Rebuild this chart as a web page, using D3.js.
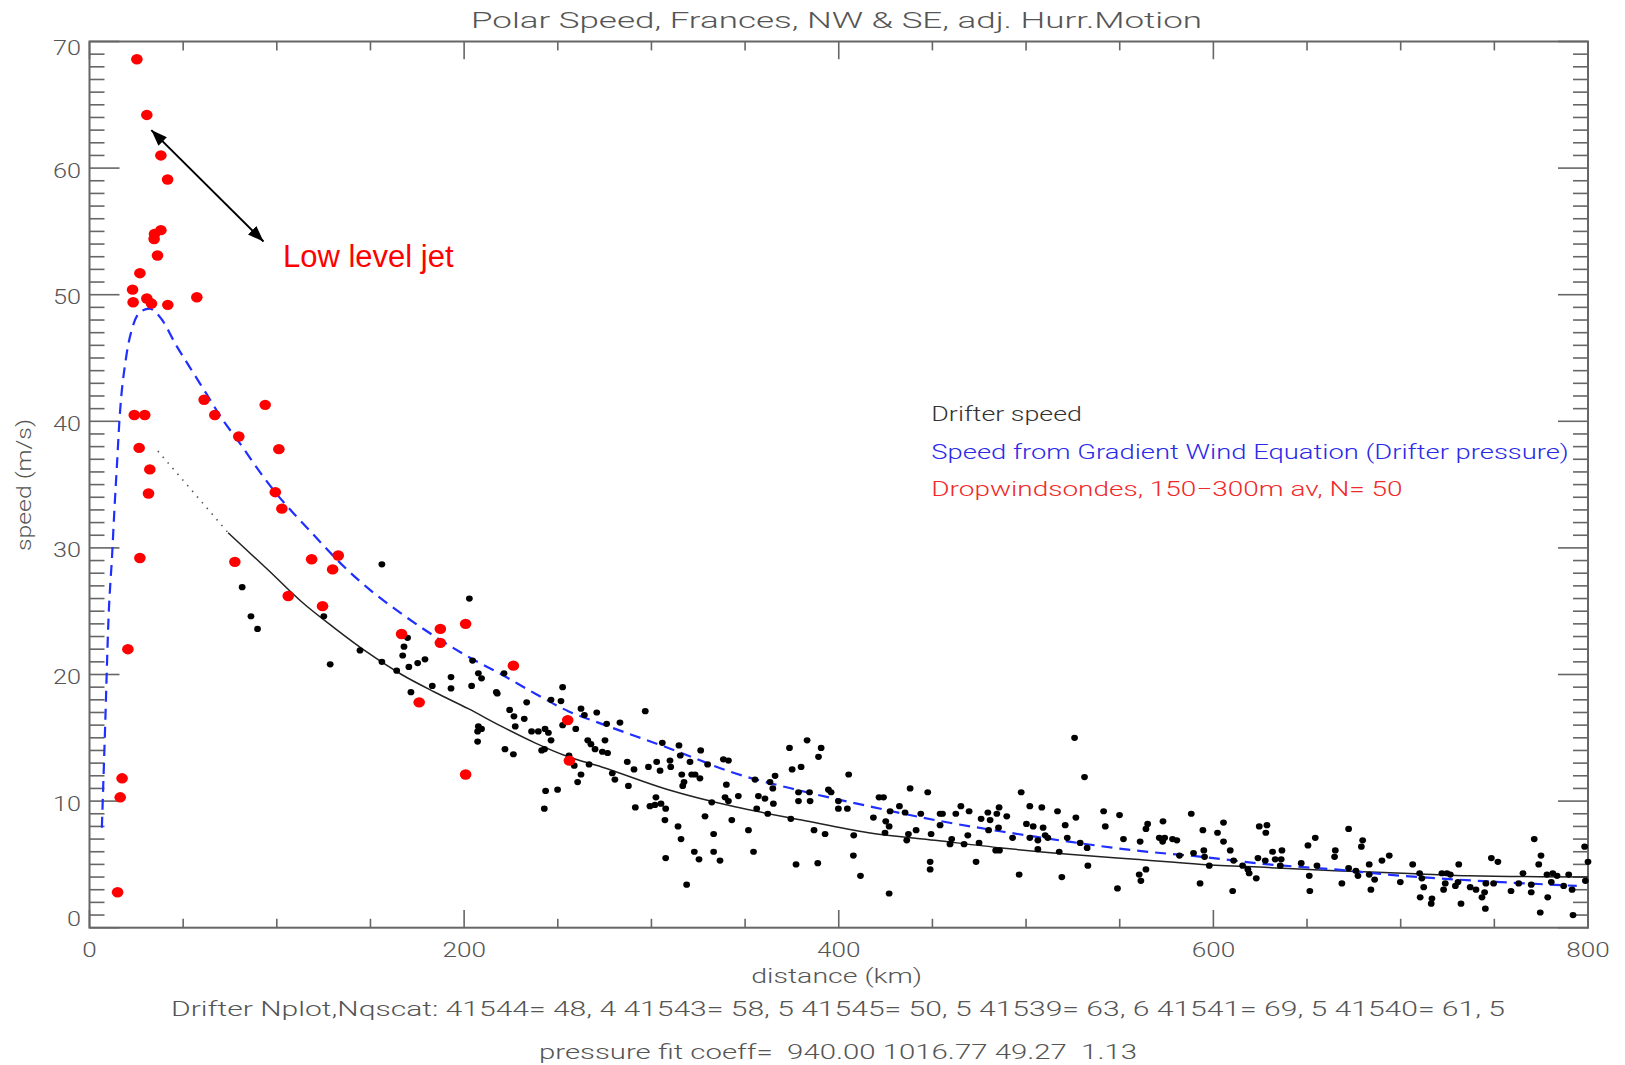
<!DOCTYPE html>
<html><head><meta charset="utf-8">
<script src="https://cdn.jsdelivr.net/npm/d3@7"></script>
<style>body{margin:0;background:#fff} text{white-space:pre}</style>
</head><body>
<svg id="chart" width="1625" height="1065"></svg>
<script>
// ---------- tick labels ----------
const xTickLabels = [0, 200, 400, 600, 800];
const yTickLabels = [0, 10, 20, 30, 40, 50, 60, 70];

// ---------- Dropwindsondes (red) ----------
const redD = [25.3,30.6,38.1,41.7,38.1,34.7,34.5,36.3,26.9,23.0,23.3,30.6,33.1,41.8,57.3,61.2,93.8,23.9,29.5,66.9,79.7,26.5,101.1,32.2,31.5,99.2,102.7,26.9,77.6,20.5,17.4,16.4,15.0,118.6,132.8,129.8,106.1,124.4,166.6,187.3,187.3,200.8,226.3,176.0,200.8,255.3,256.2];
const redV = [68.6,64.2,61.0,59.1,55.1,54.8,54.4,53.1,51.7,50.4,49.4,49.7,49.3,49.2,49.8,41.7,41.3,40.5,40.5,40.5,38.8,37.9,37.8,36.2,34.3,34.4,33.1,29.2,28.9,22.0,11.8,10.3,2.8,29.1,29.4,28.3,26.2,25.4,23.2,23.6,22.5,24.0,20.7,17.8,12.1,16.4,13.2];

// ---------- Drifter speed (black) ----------
const blackD = [
81.5,86.2,89.7,125.1,128.5,144.4,156.1,156.1,164.0,169.8,167.9,167.2,170.5,175.2,179.1,171.6,183.0,193.0,193.0,202.8,204.5,207.6,209.3,204.0,217.2,217.7,221.3,207.6,209.3,207.2,207.2,224.3,226.6,232.1,233.4,227.3,221.8,226.3,236.0,239.6,243.2,245.0,246.4,241.4,242.9,251.7,252.6,246.4,252.6,259.6,262.4,264.2,270.8,276.1,266.0,267.7,269.9,275.2,273.8,276.6,256.0,258.8,266.7,262.4,260.6,243.5,249.9,242.8,279.1,280.5,283.2,
287.1,290.7,287.7,291.4,296.7,298.4,302.8,304.6,305.8,309.9,310.3,302.4,299.2,301.9,305.1,307.6,307.2,307.6,314.2,315.8,318.8,314.7,315.4,316.2,317.4,316.7,320.6,321.5,323.3,325.9,326.3,322.9,325.4,328.6,330.0,332.2,333.2,333.2,336.6,338.4,341.1,340.0,339.3,341.1,342.9,346.4,351.8,354.5,355.3,357.1,356.2,360.6,362.1,363.3,364.8,365.1,366.0,373.7,375.1,379.9,383.1,390.6,389.2,374.4,378.5,378.5,384.4,384.7,377.2,386.8,388.8,392.7,394.5,395.9,399.8,399.8,404.6,405.3,408.0,407.8,411.6,418.5,421.5,423.9,425.1,426.9,424.7,427.4,426.9,432.4,435.4,438.1,437.2,436.3,441.3,443.8,447.5,449.3,448.8,448.8,454.1,455.4,454.1,460.3,459.4,462.5,465.2,469.6,466.9,468.9,473.3,474.9,476.0,479.6,480.8,480.0,484.4,485.6,485.3,483.8,485.8,489.7,492.8,496.3,497.4,
502.0,500.2,503.8,502.0,506.3,506.3,508.4,509.1,510.2,511.6,516.8,517.7,519.1,520.9,522.0,525.9,526.6,528.9,531.2,532.6,533.0,541.4,542.3,548.8,549.9,552.0,560.4,561.3,560.9,564.0,564.9,564.0,571.1,573.1,574.0,572.9,578.2,580.5,581.9,588.2,589.4,592.9,594.4,594.9,595.3,597.8,602.2,605.4,605.4,609.0,610.3,610.8,615.6,618.4,619.1,622.9,624.5,628.6,628.0,623.8,627.7,631.6,633.0,636.6,636.2,635.7,646.9,650.5,654.4,655.3,651.2,651.5,664.7,665.1,668.6,672.2,672.2,676.1,677.2,679.0,679.7,683.2,683.2,686.1,684.1,690.0,693.9,699.8,706.4,
710.1,711.3,712.3,710.4,716.7,716.3,722.9,723.8,722.0,724.7,726.5,731.0,729.2,730.6,732.2,737.1,740.2,743.4,744.8,745.2,745.5,748.4,751.9,749.6,758.9,763.0,765.3,769.7,769.7,771.3,773.7,774.9,774.5,778.5,778.1,780.4,781.2,783.5,787.0,789.7,791.5,792.0,798.2,800.0,798.6];
const blackV = [
26.9,24.6,23.6,24.6,20.8,21.9,28.7,21.0,20.3,22.9,22.2,21.5,20.6,20.9,21.2,18.6,19.1,19.8,18.9,26.0,21.1,20.1,19.7,19.1,18.6,18.5,20.1,15.9,15.7,15.5,14.7,17.2,16.7,16.5,17.8,15.9,14.1,13.7,15.5,15.5,15.7,15.4,14.8,14.0,14.1,17.9,19.0,18.0,16.0,15.7,17.3,16.8,17.0,16.1,14.8,14.5,14.1,14.8,13.9,13.8,13.6,12.8,12.9,12.1,11.5,10.8,10.9,9.4,12.2,11.7,16.2,
13.1,12.5,11.2,9.5,17.1,12.7,13.1,12.4,14.6,13.2,12.7,10.3,9.6,9.7,9.8,9.4,8.5,5.5,8.0,7.0,3.4,14.4,13.6,12.1,11.5,11.2,13.1,12.1,12.1,11.8,14.0,6.0,5.4,8.8,12.9,9.9,7.4,6.0,5.3,13.3,13.2,11.3,10.3,10.0,8.5,10.4,7.7,6.0,11.7,10.4,9.4,10.2,9.0,11.5,11.0,9.8,12.0,14.2,12.5,12.7,14.8,14.2,13.5,8.6,10.7,10.0,10.7,10.0,5.0,7.7,5.1,7.4,10.9,10.7,10.0,9.4,9.4,12.1,7.3,5.7,4.1,8.7,10.3,10.3,8.4,8.0,7.5,9.2,2.7,9.6,9.1,11.0,7.4,6.9,7.7,9.0,10.7,7.4,5.2,4.6,9.0,9.0,8.1,7.0,6.6,9.0,9.6,9.2,6.6,7.3,5.2,6.7,8.6,9.1,8.5,7.7,9.0,9.5,7.9,6.1,6.1,8.8,7.1,4.2,10.7,
9.6,8.2,8.0,7.1,6.2,6.9,9.5,7.9,7.3,7.1,9.2,6.0,4.0,8.1,7.1,15.0,8.7,6.7,11.9,6.3,4.9,9.2,8.0,3.1,8.9,7.0,4.2,3.7,6.8,7.8,8.2,4.6,7.1,8.4,7.1,6.8,7.0,6.9,5.7,9.0,5.9,3.5,7.7,6.1,5.6,4.9,7.5,8.3,6.8,6.1,2.9,5.3,4.9,4.6,4.3,3.9,8.0,8.1,7.5,5.5,5.3,6.0,5.4,6.1,5.4,4.9,5.1,6.5,7.1,4.9,4.1,2.9,5.6,6.1,3.5,7.8,4.7,4.5,4.1,6.4,6.9,5.0,4.2,3.8,3.0,5.3,5.7,3.6,5.0,
4.3,3.9,3.2,2.4,2.3,1.9,3.0,3.5,4.3,4.3,4.2,5.0,3.3,3.6,1.9,3.2,3.0,2.4,2.8,1.5,3.5,5.5,5.2,3.5,2.9,3.5,4.3,2.8,3.4,7.0,5.0,5.7,1.2,2.4,4.2,3.6,4.3,4.1,3.3,4.2,3.0,1.0,6.4,5.2,3.7];

// ---------- Gradient wind speed (blue dashed) ----------
const gwD = [6.6,8.2,10.2,12.1,13.4,14.6,16,19.6,23.1,27.6,32,38.3,46.3,53.4,62.3,71.2,80.1,89,99.7,110.4,118.6,134.6,148.8,166.6,184.4,202.2,220,237.8,255.6,273.4,309,344.6,380.2,415.9,451.4,487,522.7,558.2,593.9,629.5,665,700.7,754,794];
const gwV = [7.9,15.2,24.6,29.5,33.3,36.4,40.1,45.1,47.5,48.7,48.9,48.1,46.0,44.3,42.2,40.1,38.3,36.4,34.3,32.5,31.2,28.7,26.8,24.8,23.0,21.4,20.0,18.5,17.1,16.1,14.2,12.2,10.8,9.6,8.5,7.6,6.8,6.1,5.6,5.0,4.6,4.1,3.6,3.3];

// ---------- Drifter speed fit (black) ----------
const fitDotD = [36.5,53.4,74];
const fitDotV = [37.65,34.75,31.2];
const fitD = [74,95.4,113.2,131,148.8,166.6,184.4,202.2,220,237.8,255.6,273.4,309,344.6,380.2,415.9,451.4,487,522.7,558.2,593.9,629.5,665,711.3,736.3,800];
const fitV = [31.2,28.25,25.75,23.65,21.7,20.0,18.6,17.3,15.9,14.6,13.5,12.7,10.9,9.55,8.5,7.5,6.9,6.3,5.8,5.4,5.0,4.75,4.5,4.25,4.1,4.0];

// ---------- annotation (data coordinates) ----------
const jetArrow = [[33.0,63.0],[92.9,54.2]];
const jetLabel = {d:103.3, v:52.2, text:"Low level jet"};

const titleText = "Polar Speed, Frances, NW & SE, adj. Hurr.Motion";
const legendTexts = ["Drifter speed","Speed from Gradient Wind Equation (Drifter pressure)","Dropwindsondes, 150\u2212300m av, N= 50"];
const footer1 = "Drifter Nplot,Nqscat: 41544= 48, 4 41543= 58, 5 41545= 50, 5 41539= 63, 6 41541= 69, 5 41540= 61, 5";
const footer2 = "pressure fit coeff=  940.00 1016.77 49.27  1.13";

// ================= drawing =================
const svg = d3.select("#chart");
svg.append("rect").attr("width",1625).attr("height",1065).attr("fill","#fff");

const x = d3.scaleLinear().domain([0,800]).range([89.5,1588]);
const y = d3.scaleLinear().domain([0,70]).range([927.7,41.5]);

const FONT = "Roboto, 'DejaVu Sans', sans-serif";
const axisCol = "#666";
const txtCol = "#555";

// ticks
const xMinor = d3.range(0,801,50).filter(v=>v%200!==0);
const yMinor = d3.range(0,71,1).filter(v=>v%10!==0);
const g = svg.append("g");
const xMajLen = 17.7, xMinLen = 8.9, yMajLen = 30, yMinLen = 15;
function vtick(v,len,top){ g.append("line").attr("x1",x(v)).attr("x2",x(v))
  .attr("y1", top? y(70): y(0)).attr("y2", top? y(70)+len : y(0)-len)
  .attr("stroke",axisCol).attr("stroke-width",1.6); }
function htick(v,len,right){ g.append("line").attr("y1",y(v)).attr("y2",y(v))
  .attr("x1", right? x(800): x(0)).attr("x2", right? x(800)-len : x(0)+len)
  .attr("stroke", axisCol).attr("stroke-width",1.6); }
xTickLabels.forEach(v=>{vtick(v,xMajLen,false);vtick(v,xMajLen,true);});
xMinor.forEach(v=>{vtick(v,xMinLen,false);vtick(v,xMinLen,true);});
yTickLabels.forEach(v=>{htick(v,yMajLen,false);htick(v,yMajLen,true);});
yMinor.forEach(v=>{htick(v,yMinLen,false);htick(v,yMinLen,true);});

g.append("rect").attr("x",x(0)).attr("y",y(70)).attr("width",x(800)-x(0)).attr("height",y(0)-y(70))
  .attr("fill","none").attr("stroke",axisCol).attr("stroke-width",2);

// text helper
function txt(sel, s, opts){
  const t = sel.append("text").text(s).attr("font-family",FONT).attr("font-size",opts.size||20)
    .attr("fill",opts.fill||txtCol).attr("font-weight",opts.weight||300)
    .attr("xml:space","preserve").style("white-space","pre");
  if (opts.len){ t.attr("textLength",opts.len).attr("lengthAdjust","spacingAndGlyphs"); }
  return t;
}
xTickLabels.forEach(v=>{
  txt(svg, String(v), {len:14.5*String(v).length}).attr("x",x(v)).attr("y",957).attr("text-anchor","middle");
});
yTickLabels.forEach(v=>{
  let yy = y(v)+9.5;
  if (v===0) yy = y(0)-1.5;
  if (v===70) yy = y(70)+13.5;
  txt(svg, String(v), {len:14*String(v).length}).attr("x",81).attr("y",yy).attr("text-anchor","end");
});

// titles
txt(svg, titleText, {size:22, len:731}).attr("x",836.5).attr("y",28).attr("text-anchor","middle");
txt(svg, "distance (km)", {len:171}).attr("x",836.7).attr("y",983).attr("text-anchor","middle");
txt(svg, "speed (m/s)", {len:132}).attr("text-anchor","middle")
  .attr("transform","translate(31,485) rotate(-90)");

// legend
txt(svg, legendTexts[0], {len:150.6, fill:"#333"}).attr("x",931.3).attr("y",421);
txt(svg, legendTexts[1], {len:637.5, fill:"#2a2ae8"}).attr("x",931.3).attr("y",458.5);
txt(svg, legendTexts[2], {len:471.3, fill:"#f02a2a"}).attr("x",931.3).attr("y",495.5);

// footers
txt(svg, footer1, {len:1334}).attr("x",171).attr("y",1016);
txt(svg, footer2, {len:598}).attr("x",539).attr("y",1059);

// curves
const line = d3.line().x(d=>x(d[0])).y(d=>y(d[1])).curve(d3.curveMonotoneX);
svg.append("path").datum(fitDotD.map((d,i)=>[d,fitDotV[i]])).attr("d",line)
  .attr("fill","none").attr("stroke","#555").attr("stroke-width",1.6).attr("stroke-dasharray","1.5,6");
svg.append("path").datum(fitD.map((d,i)=>[d,fitV[i]])).attr("d",line)
  .attr("fill","none").attr("stroke","#222").attr("stroke-width",1.5);
svg.append("path").datum(gwD.map((d,i)=>[d,gwV[i]])).attr("d",line)
  .attr("fill","none").attr("stroke","#1f2fff").attr("stroke-width",2.2).attr("stroke-dasharray","11,7");

// points
svg.append("g").selectAll("ellipse").data(blackD.map((d,i)=>[d,blackV[i]])).join("ellipse")
  .attr("cx",d=>x(d[0])).attr("cy",d=>y(d[1])).attr("rx",3.4).attr("ry",3.1).attr("fill","#000");
svg.append("g").selectAll("ellipse").data(redD.map((d,i)=>[d,redV[i]])).join("ellipse")
  .attr("cx",d=>x(d[0])).attr("cy",d=>y(d[1])).attr("rx",5.8).attr("ry",5.2).attr("fill","#ff0000");

// annotation arrow
const defs = svg.append("defs");
defs.append("marker").attr("id","ah").attr("viewBox","0 0 16 12").attr("refX",16).attr("refY",6)
  .attr("markerWidth",16).attr("markerHeight",12).attr("markerUnits","userSpaceOnUse")
  .attr("orient","auto-start-reverse")
  .append("path").attr("d","M0,0 L16,6 L0,12 z").attr("fill","#000");
svg.append("line").attr("x1",x(jetArrow[0][0])).attr("y1",y(jetArrow[0][1]))
  .attr("x2",x(jetArrow[1][0])).attr("y2",y(jetArrow[1][1]))
  .attr("stroke","#000").attr("stroke-width",2)
  .attr("marker-start","url(#ah)").attr("marker-end","url(#ah)");
svg.append("text").text(jetLabel.text).attr("x",x(jetLabel.d)).attr("y",y(jetLabel.v))
  .attr("font-family","'Liberation Sans', Arial, sans-serif").attr("font-size",31).attr("fill","#ff0000");
</script>
</body></html>
